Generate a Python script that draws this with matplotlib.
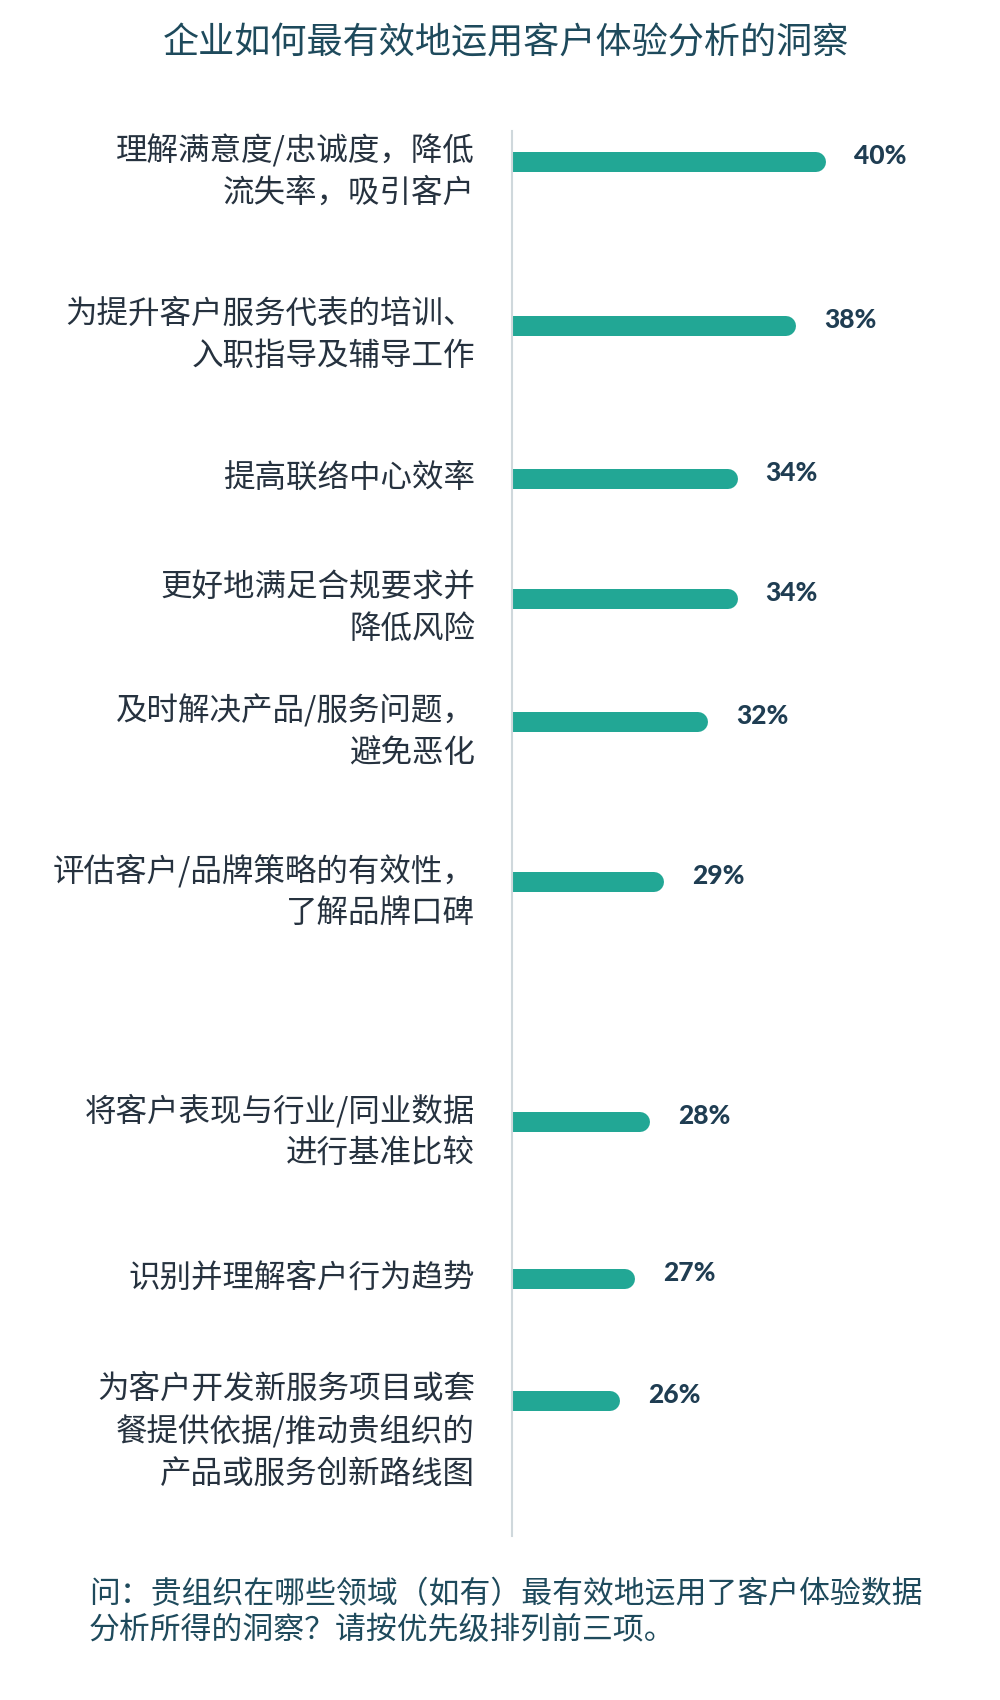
import numpy as np
import matplotlib.pyplot as plt

plt.rcParams['font.family'] = ['Noto Sans CJK SC', 'DejaVu Sans']

# Daten
kategorien = [
    '理解满意度/忠诚度，降低\n流失率，吸引客户',
    '为提升客户服务代表的培训、\n入职指导及辅导工作',
    '提高联络中心效率',
    '更好地满足合规要求并\n降低风险',
    '及时解决产品/服务问题，\n避免恶化',
    '评估客户/品牌策略的有效性，\n了解品牌口碑',
    '将客户表现与行业/同业数据\n进行基准比较',
    '识别并理解客户行为趋势',
    '为客户开发新服务项目或套\n餐提供依据/推动贵组织的\n产品或服务创新路线图',
]
werte = [40, 38, 34, 34, 32, 29, 28, 27, 26]

titel = '企业如何最有效地运用客户体验分析的洞察'
fussnote = '问：贵组织在哪些领域（如有）最有效地运用了客户体验数据\n分析所得的洞察？请按优先级排列前三项。'

# Layout: Zeilenpositionen (Pixel von oben)
zeilen_y = [162, 326, 479, 599, 722, 882, 1122, 1279, 1401]

W, H = 1000, 1700
fig = plt.figure(figsize=(W / 100, H / 100), dpi=100)
achse_links, achse_oben, achse_unten = 512, 131, 1536
ax = fig.add_axes([achse_links / W, 1 - achse_unten / H, 0.98 - achse_links / W,
                   (achse_unten - achse_oben) / H])
ax.set_ylim(achse_unten, achse_oben)
ax.set_xlim(19.3, 51.2)

farbe_balken = '#22a795'
farbe_text = '#26323f'
farbe_zahl = '#1f3d52'
farbe_titel = '#1e4a5c'

# Balken als dicke Linien mit runder Kappe (links durch Achse abgeschnitten)
for y, w in zip(zeilen_y, werte):
    ax.plot([0, w], [y, y], color=farbe_balken, lw=20 * 0.72,
            solid_capstyle='round', zorder=2)
    ax.annotate(f'{w}%', xy=(w, y), xytext=(38, 6), textcoords='offset pixels',
                ha='left', va='center', fontsize=19, fontweight='black',
                family=['Lato', 'DejaVu Sans'], color=farbe_zahl)

for y, lab in zip(zeilen_y, kategorien):
    dy = 28 if '\n' in lab else 17
    ax.annotate(lab, xy=(0, y), xycoords=ax.get_yaxis_transform(),
                xytext=(-37, dy), textcoords='offset pixels',
                ha='right', va='top', fontsize=22.7, linespacing=1.38,
                color=farbe_text)

# Achsen aufraeumen
for s in ['top', 'right', 'bottom']:
    ax.spines[s].set_visible(False)
ax.spines['left'].set_color('#cfd8dc')
ax.spines['left'].set_linewidth(1.5)
ax.set_xticks([])
ax.set_yticks([])

fig.text(0.506, 1 - 43 / H, titel, ha='center', va='center', fontsize=26,
         color=farbe_titel)
fig.text(89 / W, 1 - 1579 / H, fussnote, ha='left', va='top', fontsize=22.2,
         style='italic', linespacing=1.2, color=farbe_titel)

fig.savefig('out.png', dpi=100, facecolor='white')
